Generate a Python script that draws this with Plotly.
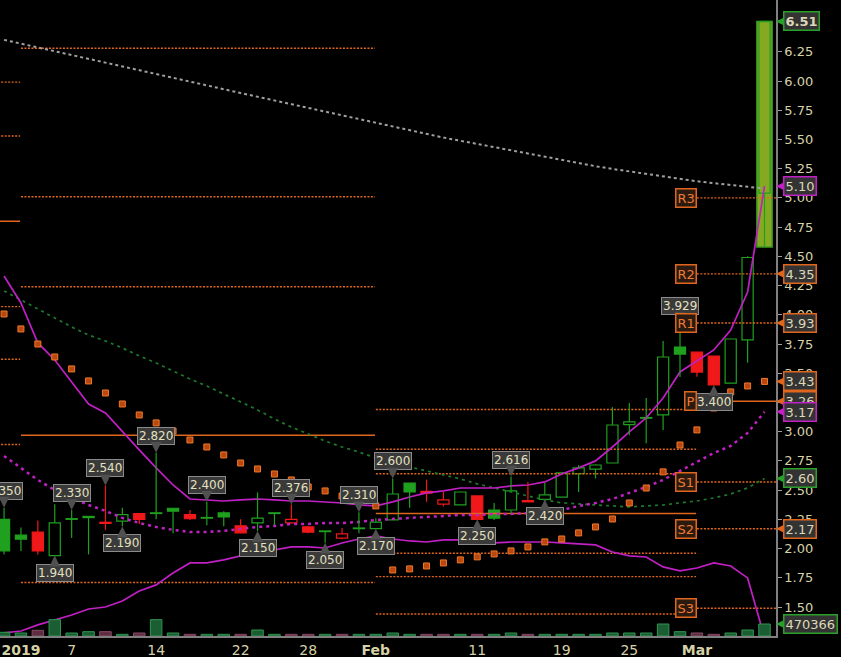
import plotly.graph_objects as go

# ---------------- data ----------------
dates = ["2018-12-31", "2019-01-02", "2019-01-03", "2019-01-04", "2019-01-07", "2019-01-08", "2019-01-09",
         "2019-01-10", "2019-01-11", "2019-01-14", "2019-01-15", "2019-01-16", "2019-01-17", "2019-01-18",
         "2019-01-22", "2019-01-23", "2019-01-24", "2019-01-25", "2019-01-28", "2019-01-29", "2019-01-30",
         "2019-01-31", "2019-02-01", "2019-02-04", "2019-02-05", "2019-02-06", "2019-02-07", "2019-02-08",
         "2019-02-11", "2019-02-12", "2019-02-13", "2019-02-14", "2019-02-15", "2019-02-19", "2019-02-20",
         "2019-02-21", "2019-02-22", "2019-02-25", "2019-02-26", "2019-02-27", "2019-02-28", "2019-03-01",
         "2019-03-04", "2019-03-05", "2019-03-06", "2019-03-07"]

opens = [2.25, 2.115, 2.14, 1.94, 2.25, 2.275, 2.225, 2.235, 2.30, 2.30, 2.345, 2.29, 2.26, 2.305,
         2.195, 2.22, 2.305, 2.22, 2.185, 2.15, 2.09, 2.17, 2.17, 2.245, 2.56, 2.49, 2.38, 2.373,
         2.45, 2.33, 2.33, 2.41, 2.42, 2.44, 2.64, 2.68, 2.732, 3.06, 3.115, 3.143, 3.724, 3.68,
         3.647, 3.416, 3.785, 5.04]
highs = [2.35, 2.18, 2.24, 2.38, 2.33, 2.275, 2.54, 2.35, 2.305, 2.82, 2.345, 2.33, 2.40, 2.32,
         2.25, 2.48, 2.305, 2.376, 2.19, 2.15, 2.175, 2.31, 2.26, 2.60, 2.56, 2.59, 2.484, 2.484,
         2.45, 2.39, 2.616, 2.57, 2.56, 2.65, 2.715, 2.72, 3.21, 3.245, 3.288, 3.776, 3.929, 3.68,
         3.647, 3.793, 4.50, 6.51]
lows = [1.95, 1.98, 1.95, 1.94, 2.09, 1.95, 2.16, 2.19, 2.21, 2.25, 2.13, 2.245, 2.20, 2.19,
        2.13, 2.15, 2.20, 2.215, 2.13, 2.05, 2.08, 2.13, 2.17, 2.245, 2.35, 2.40, 2.36, 2.373,
        2.25, 2.245, 2.30, 2.40, 2.42, 2.44, 2.484, 2.60, 2.732, 2.97, 2.90, 3.014, 3.468, 3.47,
        3.40, 3.416, 3.59, 4.58]
closes = [1.98, 2.08, 1.98, 2.22, 2.255, 2.265, 2.215, 2.29, 2.25, 2.305, 2.32, 2.255, 2.265, 2.27,
          2.135, 2.26, 2.30, 2.25, 2.14, 2.145, 2.125, 2.175, 2.227, 2.467, 2.484, 2.475, 2.416, 2.484,
          2.25, 2.26, 2.493, 2.40, 2.46, 2.647, 2.69, 2.715, 3.057, 3.083, 3.12, 3.639, 3.664, 3.51,
          3.40, 3.793, 4.49, 6.51]
volumes = [145000, 118000, 223000, 640000, 118000, 170000, 170000, 66000, 118000, 640000, 118000,
           66000, 66000, 66000, 66000, 235000, 66000, 66000, 66000, 66000, 66000, 66000, 66000,
           118000, 66000, 66000, 66000, 66000, 66000, 66000, 118000, 66000, 66000, 66000, 66000,
           66000, 118000, 118000, 118000, 470000, 170000, 118000, 66000, 118000, 235000, 470366]

sma_long = [6.352, 6.320, 6.287, 6.255, 6.222, 6.189, 6.157, 6.124, 6.092, 6.060, 6.027, 5.995,
            5.962, 5.930, 5.897, 5.865, 5.833, 5.800, 5.768, 5.736, 5.704, 5.672, 5.640, 5.608,
            5.576, 5.544, 5.516, 5.489, 5.461, 5.434, 5.406, 5.379, 5.352, 5.325, 5.298, 5.271,
            5.248, 5.226, 5.203, 5.181, 5.158, 5.142, 5.126, 5.110, 5.094, 5.080]
bb_upper = [4.332, 4.101, 3.759, 3.613, 3.425, 3.237, 3.160, 2.998, 2.844, 2.690, 2.544, 2.424,
            2.416, 2.407, 2.416, 2.424, 2.416, 2.407, 2.407, 2.399, 2.390, 2.373, 2.365, 2.399,
            2.441, 2.476, 2.493, 2.518, 2.518, 2.518, 2.536, 2.544, 2.570, 2.638, 2.690, 2.750,
            2.869, 2.998, 3.117, 3.288, 3.511, 3.605, 3.699, 3.870, 4.195, 5.10]
bb_mid = [2.792, 2.690, 2.587, 2.501, 2.433, 2.373, 2.322, 2.262, 2.219, 2.185, 2.160, 2.142,
          2.142, 2.151, 2.168, 2.185, 2.193, 2.211, 2.211, 2.219, 2.219, 2.228, 2.245, 2.253,
          2.262, 2.270, 2.279, 2.287, 2.287, 2.296, 2.296, 2.305, 2.313, 2.330, 2.364, 2.390,
          2.424, 2.476, 2.527, 2.587, 2.664, 2.741, 2.818, 2.878, 2.989, 3.17]
bb_lower = [1.278, 1.295, 1.347, 1.389, 1.432, 1.483, 1.500, 1.552, 1.637, 1.689, 1.791, 1.877,
            1.877, 1.903, 1.937, 1.962, 1.988, 2.014, 2.014, 2.005, 2.048, 2.082, 2.108, 2.082,
            2.065, 2.056, 2.074, 2.074, 2.056, 2.048, 2.056, 2.056, 2.056, 2.048, 2.039, 2.031,
            1.971, 1.937, 1.928, 1.843, 1.809, 1.834, 1.877, 1.851, 1.749, 1.24]
sma_mid = [4.204, 4.127, 4.050, 3.973, 3.896, 3.827, 3.776, 3.716, 3.648, 3.588, 3.519, 3.451,
           3.391, 3.323, 3.254, 3.186, 3.109, 3.040, 2.981, 2.920, 2.869, 2.826, 2.775, 2.732,
           2.698, 2.664, 2.630, 2.596, 2.553, 2.519, 2.484, 2.450, 2.416, 2.391, 2.382, 2.373,
           2.365, 2.356, 2.365, 2.373, 2.391, 2.407, 2.433, 2.467, 2.519, 2.60]
sar = [4.007, 3.879, 3.750, 3.639, 3.537, 3.434, 3.331, 3.237, 3.143, 3.075, 3.006, 2.929,
       2.869, 2.801, 2.732, 2.681, 2.638, 2.587, 2.527, 2.493, 2.450, 2.416, 2.365, 1.817,
       1.826, 1.851, 1.877, 1.903, 1.929, 1.954, 1.980, 2.014, 2.057, 2.082, 2.134, 2.185,
       2.253, 2.390, 2.518, 2.656, 2.886, 3.015, 3.203, 3.340, 3.391, 3.43]

# monthly pivot levels (Dec, Jan, Feb, Mar)
piv_R3 = [None, 6.28, 3.19, 5.00]
piv_R2 = [5.99, 5.01, 2.85, 4.35]
piv_R1 = [5.53, 4.24, 2.64, 3.93]
piv_P = [4.80, 2.97, 2.30, 3.26]
piv_S1 = [4.07, 1.71, 1.96, 2.57]
piv_S2 = [3.62, None, 1.76, 2.17]
piv_S3 = [2.89, None, 1.44, 1.49]

swing_high_idx = [0, 4, 6, 9, 12, 17, 21, 23, 30, 40]
swing_low_idx = [3, 7, 15, 19, 22, 28, 32, 42]

tick_dates = ["2019-01-02", "2019-01-07", "2019-01-14", "2019-01-22", "2019-01-28",
              "2019-02-01", "2019-02-11", "2019-02-19", "2019-02-25", "2019-03-01"]
tick_text = ["<b>2019</b>", "7", "14", "22", "28", "<b>Feb</b>", "11", "19", "25", "<b>Mar</b>"]
price_ticks = [1.50, 1.75, 2.00, 2.25, 2.50, 2.75, 3.00, 3.25, 3.50, 3.75, 4.00,
               4.25, 4.50, 4.75, 5.00, 5.25, 5.50, 5.75, 6.00, 6.25]

# ---------------- styling ----------------
FONT = "DejaVu Sans"
CREAM = "#D6D2A8"
GREEN = "#1FA01F"
RED = "#F01818"
MAGENTA = "#C020C4"
ORANGE = "#E0661E"

n = len(dates)
xs = list(range(n))

up = [True] + [closes[i] >= closes[i - 1] for i in range(1, n)]
edge = [GREEN if u else RED for u in up]
fill = ["rgba(0,0,0,0)" if closes[i] >= opens[i] else edge[i] for i in range(n)]
body_base = [min(opens[i], closes[i]) for i in range(n)]
body_h = [max(abs(closes[i] - opens[i]), 0.006) for i in range(n)]

fig = go.Figure()

# highlight of the last bar range
fig.add_shape(type="rect", x0=xs[-1] - 0.45, x1=xs[-1] + 0.45, y0=lows[-1], y1=highs[-1],
              fillcolor="#86A922", line=dict(color="#3C9A20", width=1.5), layer="below")

# pivot lines
month_starts = [i for i in range(1, n) if dates[i][:7] != dates[i - 1][:7]]
seg_start = [-1] + month_starts
seg_end = [s - 0.05 for s in month_starts] + [n + 1]
dot_x, dot_y, sol_x, sol_y = [], [], [], []
for m in range(len(piv_P)):
    for lvl in (piv_R3, piv_R2, piv_R1, piv_S1, piv_S2, piv_S3):
        if lvl[m] is not None:
            dot_x += [seg_start[m], seg_end[m], None]
            dot_y += [lvl[m], lvl[m], None]
    sol_x += [seg_start[m], seg_end[m], None]
    sol_y += [piv_P[m], piv_P[m], None]
fig.add_trace(go.Scatter(x=dot_x, y=dot_y, mode="lines", line=dict(color=ORANGE, width=1.4, dash="2px,1.5px"),
                         hoverinfo="skip"))
fig.add_trace(go.Scatter(x=sol_x, y=sol_y, mode="lines", line=dict(color=ORANGE, width=1.6), hoverinfo="skip"))

# moving averages / bands
fig.add_trace(go.Scatter(x=xs, y=sma_long, mode="lines", line=dict(color="#A0A0A0", width=2, dash="3px,3px")))
fig.add_trace(go.Scatter(x=xs, y=sma_mid, mode="lines", line=dict(color="#1E7A28", width=1.7, dash="3px,4px")))
fig.add_trace(go.Scatter(x=xs, y=bb_upper, mode="lines", line=dict(color=MAGENTA, width=1.7)))
fig.add_trace(go.Scatter(x=xs, y=bb_lower, mode="lines", line=dict(color=MAGENTA, width=1.7)))
fig.add_trace(go.Scatter(x=xs, y=bb_mid, mode="lines", line=dict(color=MAGENTA, width=2.5, dash="3px,4px")))

# parabolic SAR
fig.add_trace(go.Scatter(x=xs, y=sar, mode="markers",
                         marker=dict(symbol="square", size=6, color="#B84810",
                                     line=dict(color="#F07828", width=1))))

# volume
vfill = ["#1B5E33" if u else "#5C2E40" for u in up]
vedge = ["#2F9550" if u else "#8A4A68" for u in up]
fig.add_trace(go.Bar(x=xs, y=volumes, width=0.68, yaxis="y2",
                     marker=dict(color=vfill, line=dict(color=vedge, width=1))))

# wicks
for col in (GREEN, RED):
    wx, wy = [], []
    for i in range(n):
        if edge[i] != col:
            continue
        top = max(opens[i], closes[i])
        bot = min(opens[i], closes[i])
        wx += [i, i, None, i, i, None]
        wy += [top, highs[i], None, lows[i], bot, None]
    fig.add_trace(go.Scatter(x=wx, y=wy, mode="lines", line=dict(color=col, width=1.2), hoverinfo="skip"))

# bodies
fig.add_trace(go.Bar(x=xs, y=body_h, base=body_base, width=0.66,
                     marker=dict(color=fill, line=dict(color=edge, width=1.2))))

# swing labels
for i in swing_high_idx:
    fig.add_annotation(x=i, y=highs[i], text=f"{highs[i]:.3f}", showarrow=True, ax=0, ay=-17,
                       arrowhead=2, arrowsize=1.8, arrowwidth=1.2, arrowcolor="#505050",
                       bgcolor="#3A3A3A", bordercolor="#8A8A8A", borderwidth=1, borderpad=1,
                       font=dict(family=FONT, size=12, color="#E4E0C0"))
for i in swing_low_idx:
    fig.add_annotation(x=i, y=lows[i], text=f"{lows[i]:.3f}", showarrow=True, ax=0, ay=17,
                       arrowhead=2, arrowsize=1.8, arrowwidth=1.2, arrowcolor="#505050",
                       bgcolor="#3A3A3A", bordercolor="#8A8A8A", borderwidth=1, borderpad=1,
                       font=dict(family=FONT, size=12, color="#E4E0C0"))

# current-month pivot labels
cur = len(piv_P) - 1
for name, lvl in (("R3", piv_R3), ("R2", piv_R2), ("R1", piv_R1), ("P", piv_P),
                  ("S1", piv_S1), ("S2", piv_S2), ("S3", piv_S3)):
    fig.add_annotation(x=month_starts[-1], y=lvl[cur], text=name, showarrow=False, xanchor="right",
                       bgcolor="#2A1A10", bordercolor=ORANGE, borderwidth=1.5, borderpad=1,
                       font=dict(family=FONT, size=13, color="#F07A30"))

# right-side value tags
tags = [
    (closes[-1], f"<b>{closes[-1]:.2f}</b>", "#2AA02A", "y"),
    (bb_upper[-1], f"{bb_upper[-1]:.2f}", MAGENTA, "y"),
    (piv_R2[cur], f"{piv_R2[cur]:.2f}", ORANGE, "y"),
    (piv_R1[cur], f"{piv_R1[cur]:.2f}", ORANGE, "y"),
    (sar[-1], f"{sar[-1]:.2f}", ORANGE, "y"),
    (piv_P[cur], f"{piv_P[cur]:.2f}", ORANGE, "y"),
    (bb_mid[-1], f"{bb_mid[-1]:.2f}", MAGENTA, "y"),
    (sma_mid[-1], f"{sma_mid[-1]:.2f}", "#2AA02A", "y"),
    (piv_S2[cur], f"{piv_S2[cur]:.2f}", ORANGE, "y"),
    (volumes[-1], f"{volumes[-1]}", "#2AA02A", "y2"),
]
for val, txt, col, yref in tags:
    fig.add_annotation(xref="paper", x=1, yref=yref, y=val, text=txt, showarrow=True,
                       ax=7, ay=0, xanchor="left", arrowhead=2, arrowsize=1, arrowwidth=1.6,
                       arrowcolor=col, bgcolor="#333333", bordercolor=col, borderwidth=1.5,
                       borderpad=1, font=dict(family=FONT, size=13, color="#DCD8B8"))

fig.update_layout(
    width=841, height=657,
    margin=dict(l=0, r=65, t=0, b=21),
    paper_bgcolor="black", plot_bgcolor="black",
    showlegend=False, barmode="overlay",
    xaxis=dict(range=[-0.24, 45.68], tickvals=[dates.index(d) for d in tick_dates], ticktext=tick_text,
               tickfont=dict(family=FONT, size=14, color=CREAM), showgrid=False, zeroline=False,
               showline=True, linecolor="#808080", linewidth=1.5, ticks=""),
    yaxis=dict(side="right", range=[1.252, 6.693], tickvals=price_ticks,
               ticktext=[f"{v:.2f}" for v in price_ticks], ticks="outside", ticklen=4,
               tickcolor="#A0A0A0", showline=True, linecolor="#808080", linewidth=1.5,
               tickfont=dict(family=FONT, size=13, color=CREAM), showgrid=False, zeroline=False),
    yaxis2=dict(overlaying="y", range=[0, 24.93e6], visible=False),
)

fig.write_html("out.html", config={"displayModeBar": False},
               post_script="document.body.style.margin='0';document.body.style.background='black';"
                           "document.body.style.overflow='hidden';")
